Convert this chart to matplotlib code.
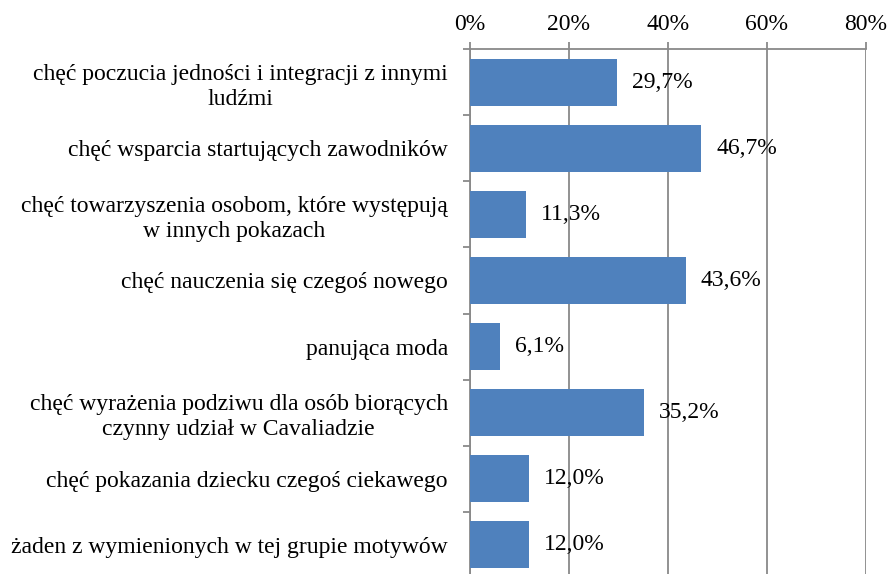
import numpy as np
import matplotlib
matplotlib.use("Agg")
import matplotlib.pyplot as plt
from matplotlib.ticker import FixedLocator, FuncFormatter

categories = [
    "chęć poczucia jedności i integracji z innymi\nludźmi",
    "chęć wsparcia startujących zawodników",
    "chęć towarzyszenia osobom, które występują\nw innych pokazach",
    "chęć nauczenia się czegoś nowego",
    "panująca moda",
    "chęć wyrażenia podziwu dla osób biorących\nczynny udział w Cavaliadzie",
    "chęć pokazania dziecku czegoś ciekawego",
    "żaden z wymienionych w tej grupie motywów",
]
values = [29.7, 46.7, 11.3, 43.6, 6.1, 35.2, 12.0, 12.0]
x_ticks = [0, 20, 40, 60, 80]

plt.rcParams['font.family'] = ['Liberation Serif', 'DejaVu Serif']
fs = 17

fig = plt.figure(figsize=(8.9, 5.74), dpi=100)
ax = fig.add_axes([470 / 890, -0.007, (866 - 470) / 890, 1 - 49 / 574 + 0.007])

gray = "#898989"
y = np.arange(len(categories))
ax.barh(y, values, height=0.71, color="#4F81BD", zorder=3)
for yi, v in zip(y, values):
    ax.text(v + 3.0, yi, f"{v:.1f}%".replace(".", ","), va="center", ha="left",
            fontsize=fs, zorder=4)

ax.set_xlim(0, 80)
ax.set_ylim(len(categories) - 0.5, -0.5)
ax.xaxis.tick_top()
ax.set_xticks(x_ticks)
ax.xaxis.set_major_formatter(FuncFormatter(lambda v, p: f"{int(v)}%"))
ax.grid(axis="x", color=gray, linewidth=1.3, zorder=0)

ax.set_yticks(y)
ax.set_yticklabels(categories, multialignment="center", linespacing=1.25, fontsize=fs)
ax.yaxis.set_minor_locator(FixedLocator(np.arange(len(categories) + 1) - 0.5))
ax.tick_params(axis="y", which="major", length=0, pad=16)
ax.tick_params(axis="y", which="minor", length=5, color=gray, width=1.3)
ax.tick_params(axis="x", length=5, color=gray, width=1.3, pad=5, labelsize=fs)

for side in ["right", "bottom"]:
    ax.spines[side].set_visible(False)
for side in ["top", "left"]:
    ax.spines[side].set_color(gray)
    ax.spines[side].set_linewidth(1.3)

fig.savefig("out.png", dpi=100)
